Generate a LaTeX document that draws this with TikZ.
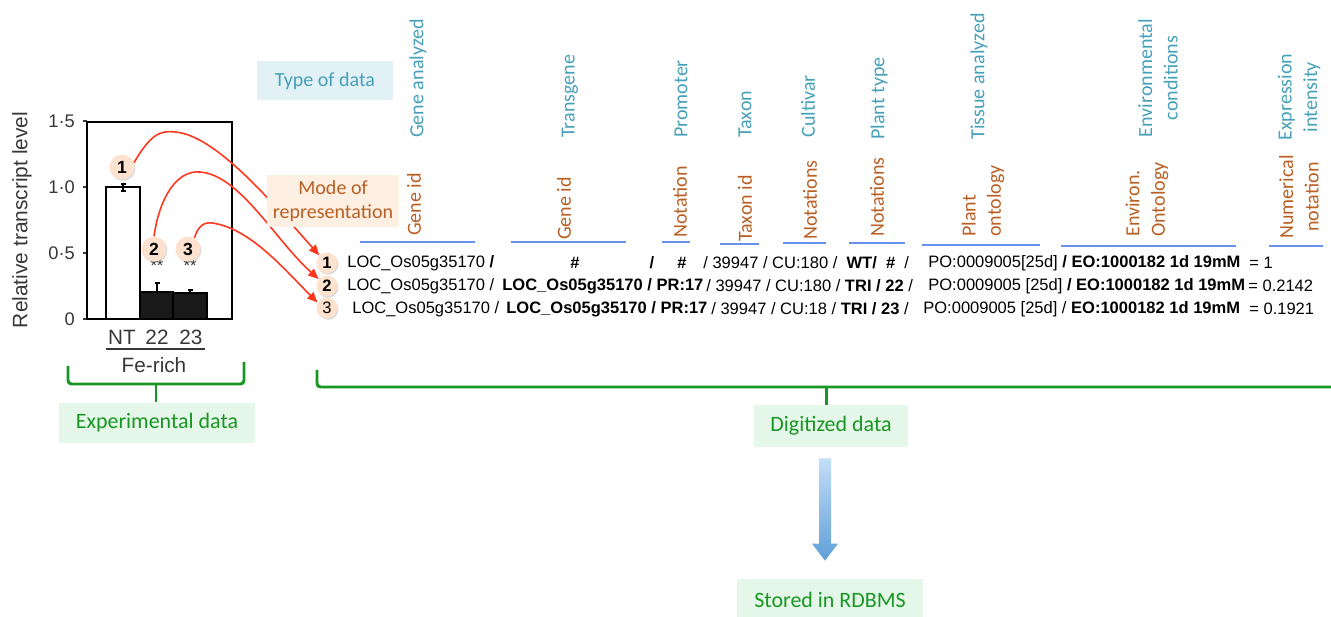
\documentclass[tikz,border=0pt]{standalone}
\usepackage{fontspec}
\setmainfont{Liberation Sans}
\newfontfamily\calib{Carlito}
\usetikzlibrary{arrows.meta,calc,shadows}
\definecolor{typetxt}{RGB}{70,160,185}
\definecolor{typebg}{RGB}{226,241,246}
\definecolor{modetxt}{RGB}{185,95,35}
\definecolor{modebg}{RGB}{253,239,226}
\definecolor{linebleu}{RGB}{105,145,235}
\definecolor{arrred}{RGB}{255,55,30}
\definecolor{vert}{RGB}{25,150,35}
\definecolor{vertlight}{RGB}{228,247,232}
\definecolor{badge}{RGB}{252,226,207}
\definecolor{arrtop}{RGB}{195,222,248}
\definecolor{arrbot}{RGB}{95,158,215}
\definecolor{axisgray}{RGB}{55,55,55}

\begin{document}
\begin{tikzpicture}[x=0.02cm,y=-0.02cm,
	typ/.style={font=\calib\fontsize{11.4}{14.5}\selectfont,text=typetxt,rotate=90,inner sep=0},
	mode/.style={font=\calib\fontsize{11.4}{14.5}\selectfont,text=modetxt,rotate=90,inner sep=0},
	row/.style={font=\fontsize{9.4}{11}\selectfont,inner sep=0,anchor=west},
	num/.style={circle,fill=badge,inner sep=0,minimum size=0.42cm,font=\fontsize{9.4}{11}\selectfont,
		drop shadow={shadow xshift=0.5pt,shadow yshift=-0.7pt,opacity=0.3}},
	arr/.style={arrred,line width=0.9pt,-{Triangle[length=6pt,width=5pt]}},
	greenbox/.style={fill=vertlight,text=vert,font=\calib\fontsize{12.5}{15}\selectfont},
	brace/.style={vert,line width=1.7pt,rounded corners=2pt},
	chart/.style={font=\fontsize{11.8}{13}\selectfont,text=axisgray}]
	\useasboundingbox (0,0) rectangle (1331,617);
	
	% bar chart
	\node[chart,rotate=90,font=\fontsize{11.9}{13}\selectfont] (ylab) at (22,220){Relative transcript level};
	\foreach \v/\l in {0/0,0.5/0·5,1/1·0,1.5/1·5}{
		\draw[axisgray,line width=0.6pt] (83,{319-132*\v}) -- (87,{319-132*\v});
		\node[chart,anchor=east,font=\fontsize{10.4}{12}\selectfont] at (81,{319-132*\v}){\l};
	}
	\draw[fill=white,line width=0.6pt] (106,319) rectangle (140,187);
	\draw[fill=black!90,line width=0.6pt] (140,319) rectangle (173,292);
	\draw[fill=black!90,line width=0.6pt] (173,319) rectangle (207,293);
	\draw[line width=0.8pt] (87,122) rectangle (232,319);
	\draw[line width=0.7pt] (123,184) -- (123,191) (120.5,184) -- (125.5,184) (120.5,191) -- (125.5,191);
	\draw[line width=0.7pt] (157,292) -- (157,283) (154.5,283) -- (159.5,283);
	\draw[line width=0.7pt] (190,293) -- (190,290) (187.5,290) -- (192.5,290);
	\node[font=\fontsize{9.5}{10}\selectfont,text=axisgray] (s22) at (157,266){**};
	\node[font=\fontsize{9.5}{10}\selectfont,text=axisgray] (s23) at (190,266){**};
	\node[chart] (nt) at (122,337){NT};
	\node[chart] (l22) at (157,337){22};
	\node[chart] (l23) at (191,337){23};
	\draw[axisgray,line width=0.7pt] (106,349) -- (205,349);
	\node[chart] (fe) at (154,365){Fe-rich};
	
	\node[num,minimum size=0.5cm,font=\bfseries\fontsize{10}{12}\selectfont] (c1) at (122,167){1};
	\node[num,minimum size=0.5cm,font=\bfseries\fontsize{10}{12}\selectfont] (c2) at (154,249){2};
	\node[num,minimum size=0.5cm,font=\bfseries\fontsize{10}{12}\selectfont] (c3) at (188,249){3};
	
	% rows of digitized data
	\node[num,font=\bfseries\fontsize{9.4}{11}\selectfont] (n1) at (327,263){1};
	\node[num,font=\bfseries\fontsize{9.4}{11}\selectfont] (n2) at (327,286){2};
	\node[num] (n3) at (327,308){3};
	
	\node[row] (r1a) at (347,263){LOC\_Os05g35170 \textbf{/}};
	\node[row,anchor=center] (r1b) at (575,263){\textbf{\#}};
	\node[row,anchor=center] (r1c) at (652,263){\textbf{/}};
	\node[row,anchor=center] (r1d) at (682,263){\textbf{\#}};
	\node[row] (r1e) at (703,263){/ 39947 / CU:180 /\ \ \textbf{WT/\ \ \#}\ \ /};
	\node[row] (r1f) at (928,263){PO:0009005[25d] \textbf{/ EO:1000182 1d 19mM}};
	\node[row] (r1g) at (1249,263){= 1};
	
	\node[row] (r2a) at (347,286){LOC\_Os05g35170 /};
	\node[row] (r2b) at (502,286){\textbf{LOC\_Os05g35170 / PR:17}};
	\node[row] (r2c) at (706,286){/ 39947 / CU:180 / \textbf{TRI / 22} /};
	\node[row] (r2d) at (928,286){PO:0009005 [25d] \textbf{/ EO:1000182 1d 19mM}};
	\node[row] (r2e) at (1248,286){= 0.2142};
	
	\node[row] (r3a) at (352,309){LOC\_Os05g35170 /};
	\node[row] (r3b) at (506,309){\textbf{LOC\_Os05g35170 / PR:17}};
	\node[row] (r3c) at (711,309){/ 39947 / CU:18 / \textbf{TRI / 23} /};
	\node[row] (r3d) at (923,309){PO:0009005 [25d] / \textbf{EO:1000182 1d 19mM}};
	\node[row] (r3e) at (1249,309){= 0.1921};
	
	\draw[arr] (c1.20) .. controls (150,135) and (160,130) .. (175,132) .. controls (215,135) and (270,200) .. (n1.135);
	\draw[arr] (c2.north) .. controls (160,195) and (178,170) .. (200,172) .. controls (240,175) and (275,240) .. (n2.140);
	\draw[arr] (c3.60) .. controls (198,226) and (204,222) .. (212,223) .. controls (250,228) and (285,270) .. (n3.150);
	
	% header
	\node[fill=typebg,text=typetxt,font=\calib\fontsize{11.4}{14.5}\selectfont,minimum width=2.72cm,minimum height=0.78cm] (typ) at (325,81){Type of data};
	\node[fill=modebg,text=modetxt,font=\calib\fontsize{11.4}{13.5}\selectfont,align=center,minimum width=2.54cm,minimum height=1cm] (mod) at (333,201){Mode of\\representation};
	
	\node[typ,anchor=west] (h1) at (418,138){Gene analyzed};
	\node[typ,anchor=west] (h2) at (570,138){Transgene};
	\node[typ,anchor=west] (h3) at (681,138){Promoter};
	\node[typ,anchor=west] (h4) at (745,138){Taxon};
	\node[typ,anchor=west] (h5) at (808,138){Cultivar};
	\node[typ,anchor=west] (h6) at (879,140){Plant type};
	\node[typ,anchor=west] (h7) at (979,140){Tissue analyzed};
	\node[typ,align=center] (h8) at (1158,78){Environmental\\conditions};
	\node[typ,align=center] (h9) at (1299,97){Expression\\intensity};
	
	\node[mode,anchor=west] (m1) at (414,236){Gene id};
	\node[mode,anchor=west] (m2) at (564,240){Gene id};
	\node[mode,anchor=west] (m3) at (680,238){Notation};
	\node[mode,anchor=west] (m4) at (745,242){Taxon id};
	\node[mode,anchor=west] (m5) at (810,240){Notations};
	\node[mode,anchor=west] (m6) at (877,237){Notations};
	\node[mode,anchor=west,align=left] (m7) at (983,237){Plant\\ontology};
	\node[mode,anchor=west,align=left] (m8) at (1147,237){Environ.\\Ontology};
	\node[mode,align=center] (m9) at (1299,197){Numerical\\notation};
	
	\foreach \a/\b/\y in {360/475/242,511/626/242,662/690/242,720/759/244,783/826/243,849/905/243,922/1040/245,1061/1236/246,1269/1323/246}
		\draw[linebleu,line width=1.1pt] (\a,\y) -- (\b,\y);
	
	% braces and boxes
	\node[greenbox,minimum width=3.94cm,minimum height=0.82cm] (exp) at (157,423){Experimental data};
	\node[greenbox,minimum width=3.08cm,minimum height=0.84cm] (dig) at (831,426){Digitized data};
	\node[greenbox,minimum width=3.72cm,minimum height=0.84cm] (sto) at (830,600){Stored in RDBMS};
	
	\coordinate (bl) at (156,384);
	\coordinate (br) at (826,387);
	\draw[brace] (68,366) -- (68,384) -- (244,384) -- (244,362);
	\draw[brace] (bl) -- (bl |- exp.north);
	\draw[brace] (317,370) -- (317,387) -- (1345,387);
	\draw[brace] (br) -- (br |- dig.north);
	
	\shade[top color=arrtop,bottom color=arrbot] ($(dig.south)+(-12,11)$) -- ($(dig.south)+(0,11)$) -- ($(sto.north)+(1,-35)$)
		-- ($(sto.north)+(8,-35)$) -- ($(sto.north)+(-5,-18)$) -- ($(sto.north)+(-18,-35)$) -- ($(sto.north)+(-11,-35)$) -- cycle;
\end{tikzpicture}
\end{document}
